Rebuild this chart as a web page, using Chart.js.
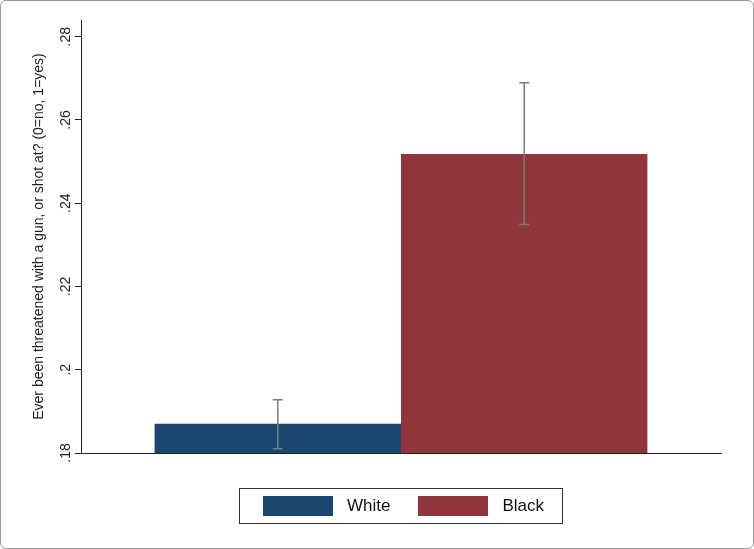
<!DOCTYPE html>
<html><head><meta charset="utf-8">
<script src="https://cdn.jsdelivr.net/npm/chart.js@4"></script>
<style>
html,body{margin:0;padding:0;background:#fff;}
#wrap{position:relative;width:754px;height:549px;box-sizing:border-box;border:1px solid #999;border-radius:6px;overflow:hidden;}
#legend{position:absolute;left:238px;top:487px;width:324px;height:36px;box-sizing:border-box;border:1px solid #333;display:flex;align-items:center;font-family:Arial,"Liberation Sans",sans-serif;font-size:17px;color:#111;}
.box{width:70px;height:20px;margin-left:23px;margin-right:14px;}
</style></head><body>
<div id="wrap"><canvas id="c" width="754" height="549"></canvas>
<div id="legend"><div class="box" style="background:#1a476f;margin-left:23px"></div>White<div class="box" style="background:#90353b;margin-left:28px"></div>Black</div></div>
<script>
const categories=[""];
const seriesNames=["White","Black"];
const means=[0.187,0.2518];
const ciLow=[0.181,0.2349];
const ciHigh=[0.1928,0.2689];
const yTicks=[0.18,0.20,0.22,0.24,0.26,0.28];
const yTickLabels=[".18",".2",".22",".24",".26",".28"];
const colors=["#1a476f","#90353b"];

const errPlugin={id:"err",afterDatasetsDraw(chart){
  const ctx=chart.ctx,y=chart.scales.y;
  ctx.save();ctx.strokeStyle="#7a7a7a";ctx.lineWidth=1.5;
  chart.data.datasets.forEach((ds,i)=>{
    const bar=chart.getDatasetMeta(i).data[0];const x=bar.x;
    const t=y.getPixelForValue(ciHigh[i]),b=y.getPixelForValue(ciLow[i]);
    ctx.beginPath();ctx.moveTo(x,t);ctx.lineTo(x,b);
    ctx.moveTo(x-5,t);ctx.lineTo(x+5,t);ctx.moveTo(x-5,b);ctx.lineTo(x+5,b);ctx.stroke();
  });
  ctx.fillStyle="#222";ctx.font="14px Arial, 'Liberation Sans', sans-serif";
  ctx.textAlign="center";ctx.textBaseline="middle";
  yTicks.forEach((v,k)=>{const p=y.getPixelForValue(v);
    ctx.save();ctx.translate(65,p);ctx.rotate(-Math.PI/2);ctx.fillText(yTickLabels[k],0,0);ctx.restore();});
  ctx.restore();
}};

new Chart(document.getElementById("c"),{
  type:"bar",
  data:{labels:categories,datasets:seriesNames.map((n,i)=>({label:n,data:[means[i]],backgroundColor:colors[i],categoryPercentage:0.77,barPercentage:1}))},
  options:{responsive:false,animation:false,
    layout:{padding:{left:0,right:34,top:19,bottom:0}},
    plugins:{legend:{display:false},tooltip:{enabled:false}},
    scales:{
      x:{grid:{display:false,drawTicks:false},border:{color:"#222"},ticks:{display:false},
         afterFit(s){s.height=97;}},
      y:{min:0.18,max:0.284,afterBuildTicks(s){s.ticks=yTicks.map(v=>({value:v}));},
         grid:{drawOnChartArea:false,drawTicks:true,tickLength:6,color:"#222"},border:{color:"#222"},
         ticks:{display:false},
         title:{display:true,text:"Ever been threatened with a gun, or shot at? (0=no, 1=yes)",color:"#222",font:{size:14,family:"Arial, 'Liberation Sans', sans-serif"},padding:{top:30,bottom:0}},
         afterFit(s){s.width=80;}}
    }},
  plugins:[errPlugin]
});
</script></body></html>
